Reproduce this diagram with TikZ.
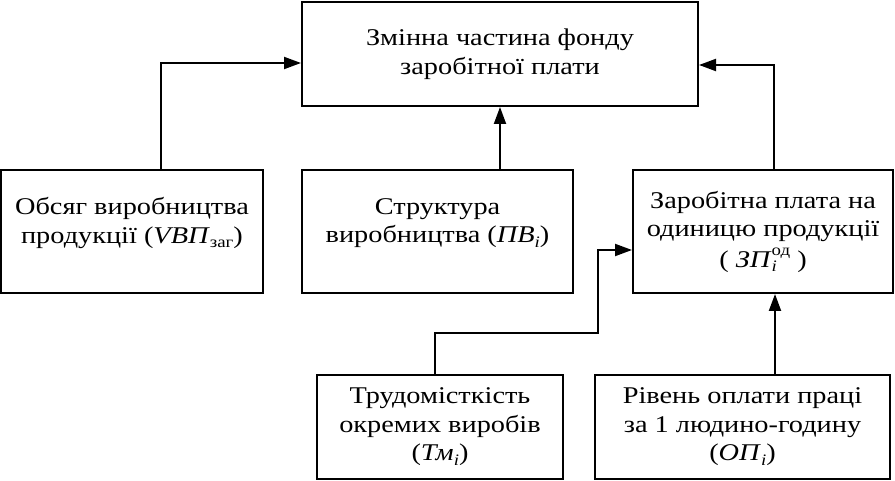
\documentclass[tikz,border=0pt]{standalone}
\usepackage{fontspec}
\setmainfont{Liberation Serif}[FakeStretch=1.18]
\usetikzlibrary{arrows.meta}
\newcommand{\lowsub}[1]{\raisebox{-0.4ex}{\fontsize{16}{16}\selectfont #1}}
\newcommand{\highsup}[1]{\raisebox{1.05ex}{\fontsize{16}{16}\selectfont #1}}
\begin{document}
\begin{tikzpicture}[x=1pt,y=-1pt,
  box/.style={draw, line width=2pt, rectangle, align=center, inner sep=0pt,
    font=\fontsize{24}{28.5}\selectfont},
  arr/.style={line width=2pt, -{Triangle[length=17pt,width=12pt]}}]
\useasboundingbox (0,0) rectangle (895,481);
\node[box, minimum width=396pt, minimum height=104pt] (T) at (500,54) {Змінна частина фонду\\заробітної плати};
\node[box, minimum width=262pt, minimum height=123pt, text depth=22pt] (L) at (132,231.5) {Обсяг виробництва\\продукції (\textit{VBП}\lowsub{заг})};
\node[box, minimum width=271pt, minimum height=123pt, text depth=22pt] (M) at (437.5,231.5) {Структура\\виробництва (\textit{ПВ}\lowsub{\textit{i}})};
\node[box, minimum width=260pt, minimum height=123pt] (R) at (763,231.5) {Заробітна плата на\\одиницю продукції\\[2pt]( \textit{ЗП}\makebox[0pt][l]{\lowsub{\textit{i}}}\highsup{од} )};
\node[box, minimum width=246pt, minimum height=104pt] (BL) at (440,427) {Трудомісткість\\окремих виробів\\(\textit{Тм}\lowsub{\textit{i}})};
\node[box, minimum width=295pt, minimum height=104pt] (BR) at (742.5,427) {Рівень оплати праці\\за 1 людино-годину\\(\textit{ОП}\lowsub{\textit{i}})};
\coordinate (k) at (598,333);
\draw[arr] ([xshift=29pt]L.north) |- ([yshift=-9pt]T.west);
\draw[arr] (T.south |- M.north) -- (T.south);
\draw[arr] ([xshift=11pt]R.north) |- ([yshift=-11pt]T.east);
\draw[arr] ([xshift=12pt]R.south |- BR.north) -- ([xshift=12pt]R.south);
\draw[arr] ([xshift=-5pt]BL.north) |- (k) |- ([yshift=-18.5pt]R.west);
\end{tikzpicture}
\end{document}
